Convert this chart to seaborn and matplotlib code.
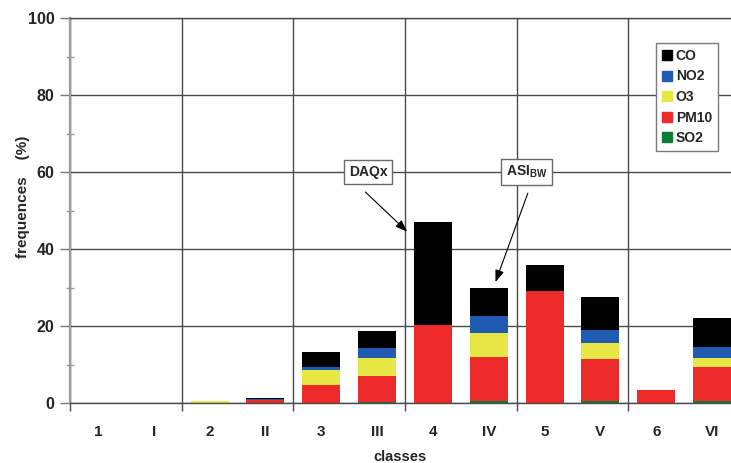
import numpy as np
import pandas as pd
import matplotlib
matplotlib.use("Agg")
import matplotlib.pyplot as plt
from matplotlib.lines import Line2D
import seaborn as sns

classes = ['1', 'I', '2', 'II', '3', 'III', '4', 'IV', '5', 'V', '6', 'VI']
SO2 = [0, 0, 0, 0, 0, 0.3, 0, 0.6, 0, 0.4, 0, 0.4]
PM10 = [0, 0, 0, 0.7, 4.7, 6.7, 20.3, 11.4, 29.2, 11.0, 3.4, 9.0]
O3 = [0, 0, 0.4, 0, 3.9, 4.8, 0, 6.3, 0, 4.1, 0, 2.2]
NO2 = [0, 0, 0, 0.4, 0.8, 2.4, 0, 4.3, 0, 3.5, 0, 2.9]
CO = [0, 0, 0, 0.2, 3.9, 4.6, 26.8, 7.4, 6.6, 8.6, 0, 7.5]

series_names = ['SO2', 'PM10', 'O3', 'NO2', 'CO']
series_vals = [SO2, PM10, O3, NO2, CO]
colors = {'CO': '#000000', 'NO2': '#1f5bb0', 'O3': '#e6e645',
          'PM10': '#ee2b2b', 'SO2': '#0e7a33'}

sns.set_theme(style='white')
plt.rcParams['font.family'] = ['Liberation Sans', 'DejaVu Sans']
plt.rcParams['font.weight'] = 'bold'
plt.rcParams['mathtext.fontset'] = 'custom'
plt.rcParams['mathtext.rm'] = 'Liberation Sans:bold'
plt.rcParams['mathtext.bf'] = 'Liberation Sans:bold'

df = pd.DataFrame(dict(zip(series_names, series_vals)), index=classes)
cum = df.cumsum(axis=1)

fig = plt.figure(figsize=(7.31, 4.63), dpi=100)
ax = fig.add_axes([70 / 731, 60 / 463, 670 / 731, 385 / 463])

# draw cumulative totals from the tallest layer down so they stack visually
for name in reversed(series_names):
    sns.barplot(x=classes, y=cum[name].values, order=classes, color=colors[name],
                saturation=1, width=0.68, errorbar=None, edgecolor='none',
                linewidth=0, ax=ax, zorder=2)

ax.set_xlim(-0.5, 11.5)
ax.set_ylim(0, 100)
ax.set_yticks(np.arange(0, 101, 20))
ax.set_yticks(np.arange(10, 100, 20), minor=True)
ax.set_xticks(range(len(classes)))
ax.set_xticklabels(classes)
ax.set_xticks(np.arange(-0.5, 12, 2), minor=True)

ax.set_axisbelow(True)
ax.yaxis.grid(True, which='major', color='#4a4a4a', linewidth=1.0)
ax.xaxis.grid(True, which='minor', color='#4a4a4a', linewidth=1.0)
ax.xaxis.grid(False, which='major')

ax.spines['right'].set_visible(False)
ax.spines['top'].set_color('#4a4a4a')
ax.spines['top'].set_linewidth(1.0)
ax.spines['bottom'].set_color('#4a4a4a')
ax.spines['bottom'].set_linewidth(1.0)
ax.spines['left'].set_color('#9a9a9a')
ax.spines['left'].set_linewidth(1.6)

ax.tick_params(axis='y', which='major', direction='out', length=7, width=1,
               color='#7a7a7a', labelsize=11.5, pad=4, left=True)
ax.tick_params(axis='y', which='minor', direction='inout', length=6, width=1,
               color='#9a9a9a', left=True)
ax.tick_params(axis='x', which='major', length=0, labelsize=11, pad=16)
ax.tick_params(axis='x', which='minor', direction='out', length=6, width=1,
               color='#4a4a4a', bottom=True)

ax.set_ylabel('frequences    (%)', fontsize=11, fontweight='bold')
ax.yaxis.set_label_coords(-0.060, 0.535)
ax.set_xlabel('classes', fontsize=10.5, fontweight='bold')
ax.xaxis.set_label_coords(0.4925, -0.122)

handles = [Line2D([0], [0], marker='s', linestyle='none', markersize=6.5,
                  markerfacecolor=colors[n], markeredgecolor=colors[n], label=n)
           for n in ['CO', 'NO2', 'O3', 'PM10', 'SO2']]
leg = ax.legend(handles=handles, loc='upper left', bbox_to_anchor=(0.875, 0.934),
                frameon=True, fancybox=False, framealpha=1, edgecolor='#7a7a7a',
                prop={'size': 10, 'weight': 'bold'}, handlelength=0.7,
                handletextpad=0.3, labelspacing=0.47, borderpad=0.4,
                borderaxespad=0)
leg.get_frame().set_linewidth(1.0)

box = dict(boxstyle='square,pad=0.35', facecolor='white', edgecolor='#6a6a6a', lw=1)
ax.text(4.84, 60, 'DAQx', ha='center', va='center', fontsize=10,
        fontweight='bold', bbox=box, zorder=5)
ax.text(7.68, 60, r'ASI$_{\mathbf{BW}}$', ha='center', va='center', fontsize=10,
        fontweight='bold', bbox=box, zorder=5)
arrow = dict(arrowstyle='-|>,head_length=0.6,head_width=0.22', color='black',
             lw=0.8, shrinkA=0, shrinkB=0)
ax.annotate('', xy=(5.54, 44.5), xytext=(4.79, 54.8), arrowprops=arrow, zorder=5)
ax.annotate('', xy=(7.12, 31.4), xytext=(7.70, 54.5), arrowprops=arrow, zorder=5)

fig.savefig('out.png', dpi=100)
